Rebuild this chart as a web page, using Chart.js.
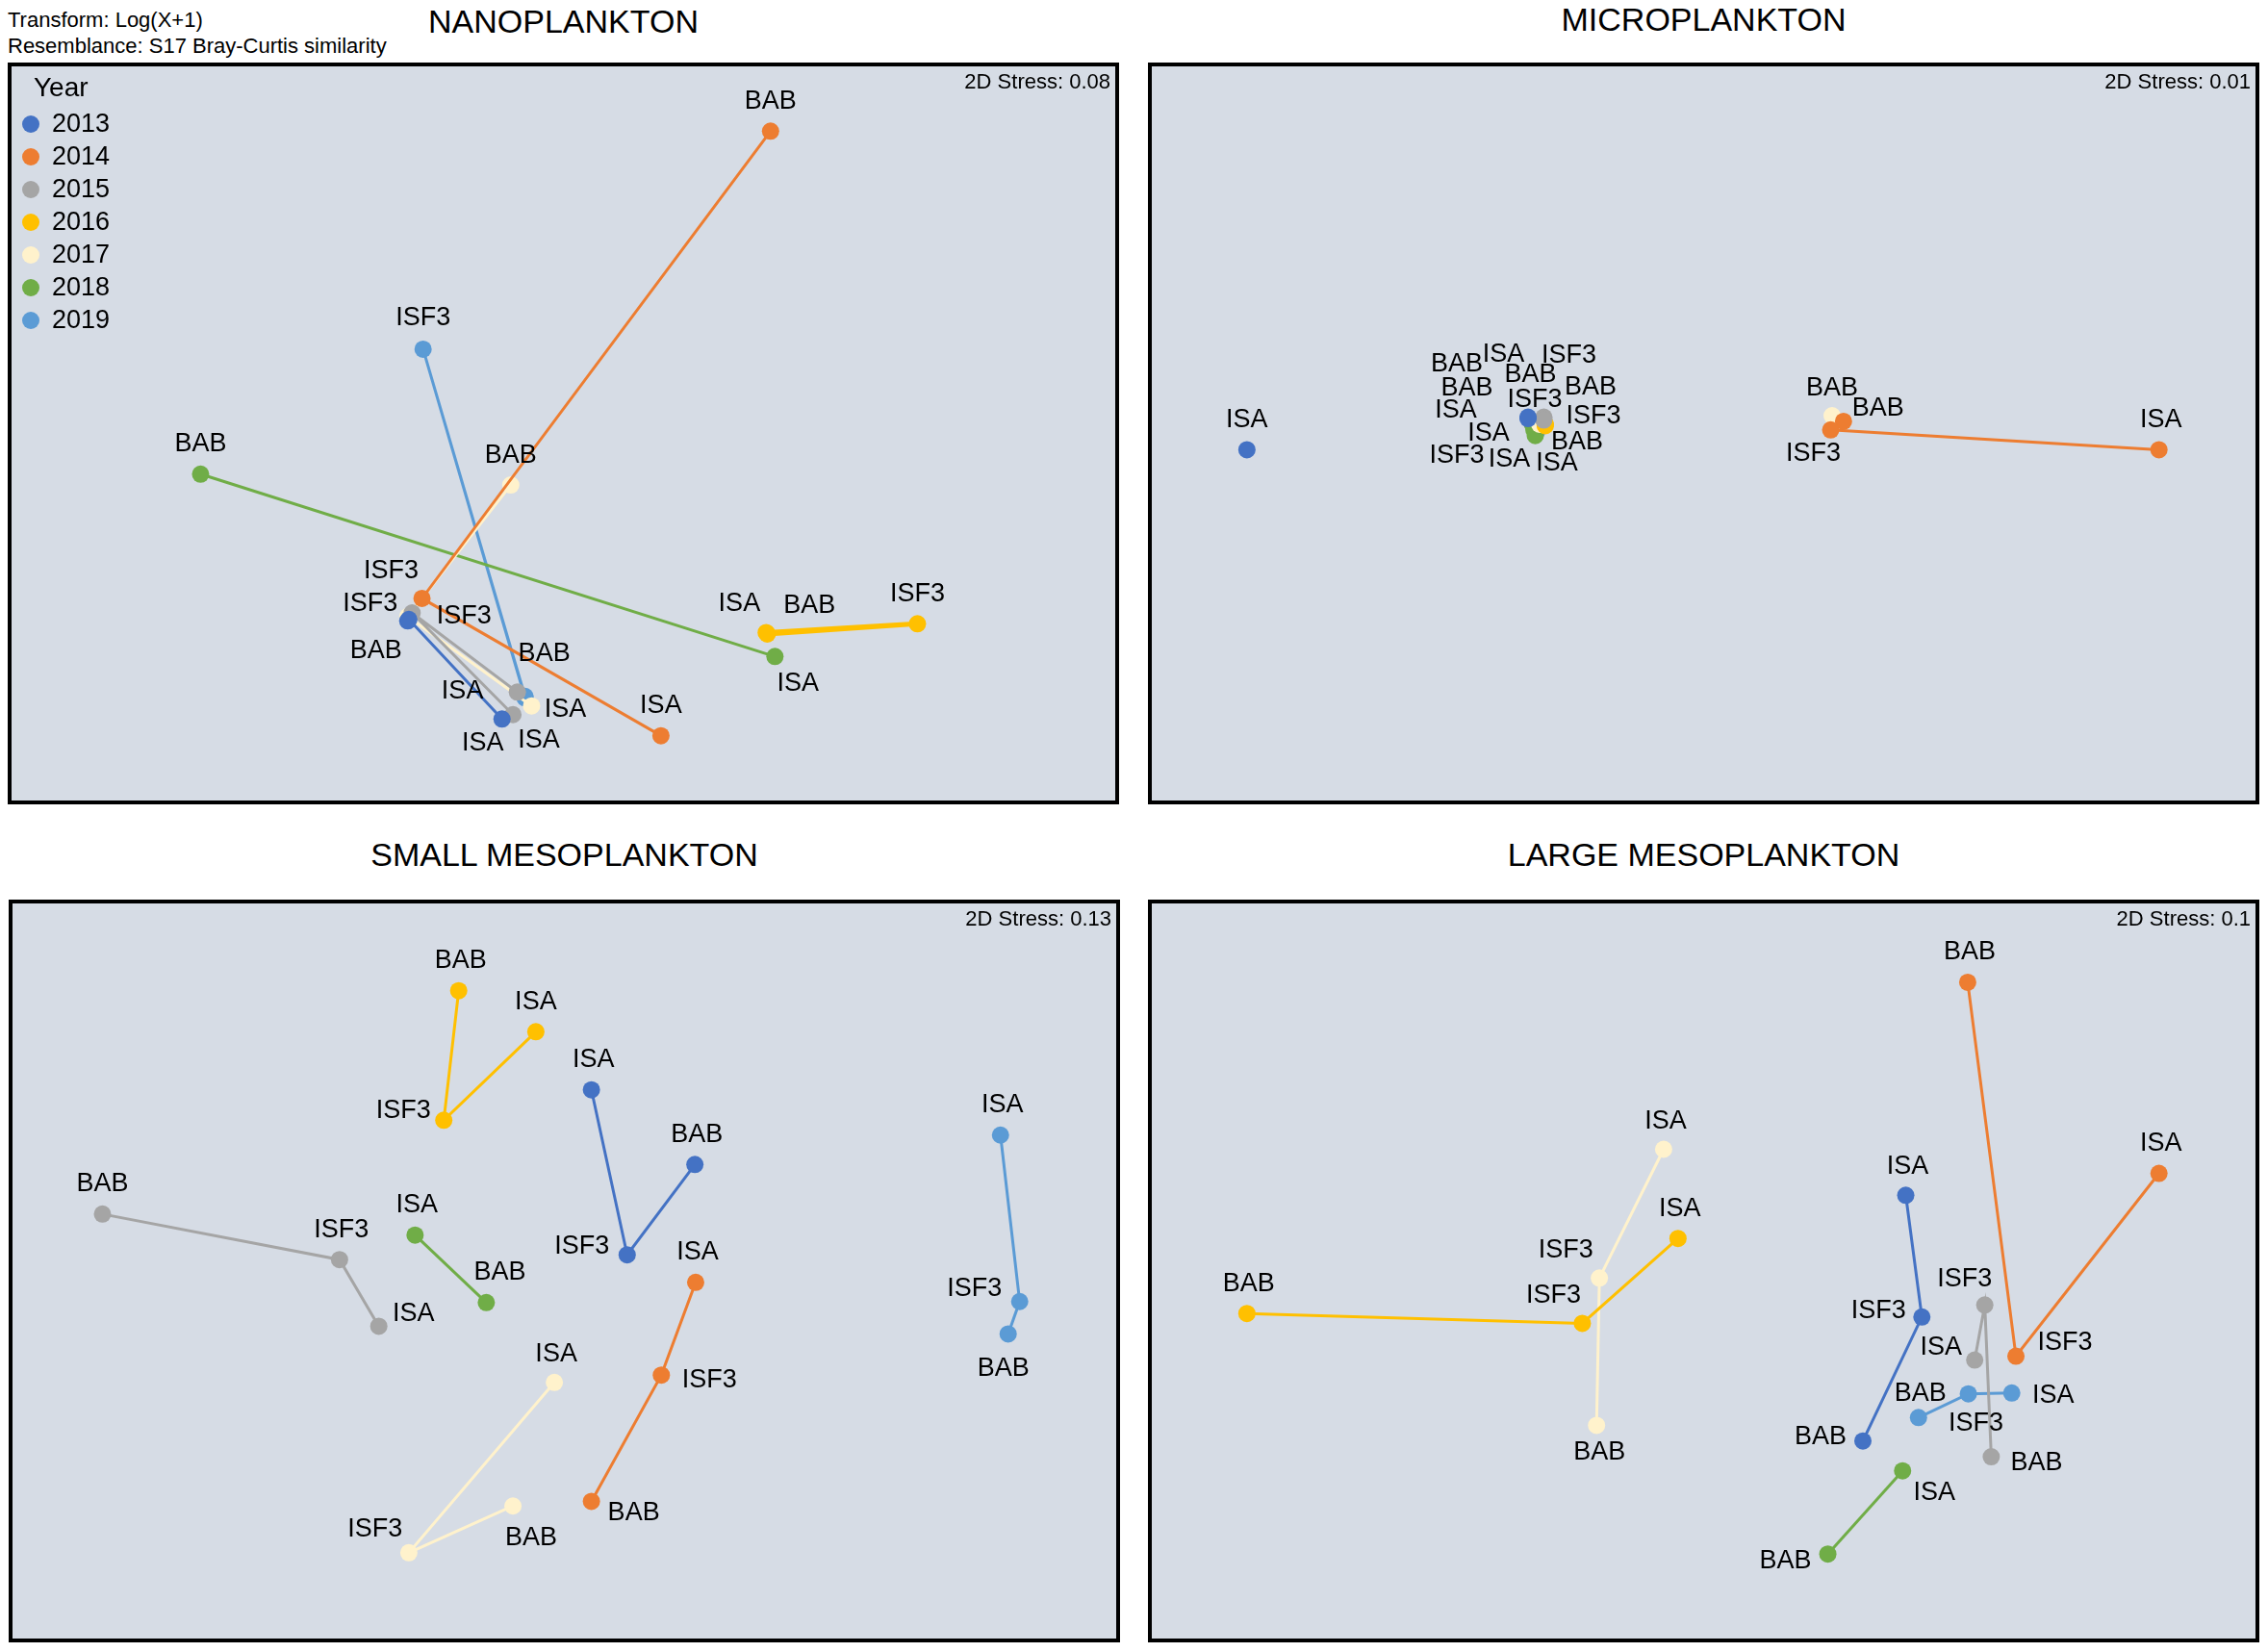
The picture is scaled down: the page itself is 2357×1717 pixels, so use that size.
<!DOCTYPE html>
<html>
<head>
<meta charset="utf-8">
<script src="https://cdn.jsdelivr.net/npm/chart.js@4.4.1/dist/chart.umd.min.js"></script>
<style>
  html, body { margin: 0; padding: 0; background: #fff; }
  body { width: 2357px; height: 1717px; position: relative; overflow: hidden;
         font-family: "Liberation Sans", Arial, sans-serif; color: #000; }
  .note { position: absolute; left: 8px; font-size: 22px; line-height: 24px; white-space: nowrap; }
  .title { position: absolute; width: 1155px; text-align: center; font-size: 34px; line-height: 40px; white-space: nowrap; }
  .panel { position: absolute; width: 1155px; border: 4px solid #000; box-sizing: border-box; background: #d6dce5; }
  .panel canvas { display: block; }
  .stress { position: absolute; right: 5px; top: 4px; font-size: 22px; line-height: 24px; }
</style>
</head>
<body>
<div class="note" style="top:9px">Transform: Log(X+1)</div>
<div class="note" style="top:36px">Resemblance: S17 Bray-Curtis similarity</div>

<div class="title" style="left:8px; top:2px">NANOPLANKTON</div>
<div class="title" style="left:1193px; top:0px">MICROPLANKTON</div>
<div class="title" style="left:9px; top:868px">SMALL MESOPLANKTON</div>
<div class="title" style="left:1193px; top:868px">LARGE MESOPLANKTON</div>

<div class="panel" style="left:8px; top:65px; height:771px"><canvas id="nano" width="1147" height="763"></canvas><div class="stress">2D Stress: 0.08</div></div>
<div class="panel" style="left:1193px; top:65px; height:771px"><canvas id="micro" width="1147" height="763"></canvas><div class="stress">2D Stress: 0.01</div></div>
<div class="panel" style="left:9px; top:935px; height:772px"><canvas id="small" width="1147" height="764"></canvas><div class="stress">2D Stress: 0.13</div></div>
<div class="panel" style="left:1193px; top:935px; height:772px"><canvas id="large" width="1147" height="764"></canvas><div class="stress">2D Stress: 0.1</div></div>

<script>
const years = ['2013', '2014', '2015', '2016', '2017', '2018', '2019'];
const sites = ['BAB', 'ISF3', 'ISA'];
const yearColors = ['#4472c4', '#ed7d31', '#a5a5a5', '#ffc000', '#fff2cc', '#70ad47', '#5b9bd5'];

// MDS coordinates, one row per year, order BAB, ISF3, ISA
const nanoX = [
  [35.8, 35.9, 44.4],
  [68.9, 37.1, 58.9],
  [45.8, 36.2, 45.4],
  [68.5, 82.3, 68.6],
  [45.2, 35.8, 47.1],
  [16.9, null, 69.3],
  [46.5, 37.2, 46.5]
];
const nanoY = [
  [24.2, 24.4, 10.7],
  [91.6, 27.3, 8.4],
  [14.4, 25.3, 11.3],
  [22.6, 23.8, 22.4],
  [42.9, 24.8, 12.5],
  [44.4, null, 19.3],
  [13.8, 61.6, 13.6]
];

const microX = [
  [33.98, 33.98, 8.33],
  [62.76, 61.59, 91.54],
  [35.42, 35.42, 35.42],
  [35.55, 35.55, 35.55],
  [61.72, 35.03, 35.03],
  [34.38, 34.51, 34.64],
  [34.77, 34.77, 34.77]
];
const microY = [
  [52.24, 52.05, 47.76],
  [51.66, 50.49, 47.76],
  [52.24, 52.05, 51.85],
  [51.27, 51.27, 51.07],
  [52.44, 51.46, 51.27],
  [51.27, 50.49, 49.71],
  [50.49, 50.49, 50.29]
];

const smallX = [
  [61.91, 55.73, 52.47],
  [52.47, 58.85, 61.98],
  [7.86, 29.49, 33.07],
  [40.36, 39.00, 47.40],
  [45.31, 35.81, 49.09],
  [42.88, null, 36.38],
  [90.49, 91.54, 89.79]
];
const smallY = [
  [64.63, 52.22, 74.90],
  [18.33, 35.70, 48.44],
  [57.82, 51.56, 42.41],
  [88.52, 70.72, 82.88],
  [17.70, 11.28, 34.69],
  [45.66, null, 54.94],
  [41.34, 45.80, 68.68]
];

const largeX = [
  [64.53, 69.91, 68.44],
  [74.09, 78.49, 91.54],
  [76.24, 75.65, 74.73],
  [8.33, 38.93, 47.66],
  [40.23, 40.49, 46.35],
  [61.33, null, 68.15],
  [69.60, 74.15, 78.11]
];
const largeY = [
  [26.63, 43.68, 60.41],
  [89.69, 38.29, 63.42],
  [24.47, 45.33, 37.76],
  [44.16, 42.80, 54.47],
  [28.79, 49.03, 66.73],
  [11.09, null, 22.53],
  [29.86, 33.11, 33.23]
];

// label placement (px from the point), null = label hidden in the original
const nanoLabels = [
  [[-33, 30], null, [-20, 24]],
  [[0, -32], [-32, -29], [0, -32]],
  [null, [54, 3], [27, 26]],
  [[45, -29], [0, -32], [-29, -32]],
  [[0, -32], [-39, -14], [35, 3]],
  [[0, -32], null, [24, 27]],
  [[20, -45], [0, -33], [-65, -8]]
];
const microLabels = [
  [[-74, -56], null, [0, -32]],
  [[36, -14], [-18, 24], [2, -32]],
  [[-14, -45], [26, -66], [-42, -69]],
  [[47, -39], [50, -9], [12, 38]],
  [[0, -30], null, [-87, -15]],
  [[-68, -38], [-80, 26], [-27, 24]],
  [[42, 12], [-2, -32], [-50, 1]]
];
const smallLabels = [
  [[2, -32], [-47, -10], [2, -32]],
  [[44, 11], [50, 4], [2, -32]],
  [[0, -32], [2, -32], [36, -14]],
  [[2, -32], [-42, -11], [0, -32]],
  [[19, 32], [-35, -25], [2, -30]],
  [[14, -32], null, [2, -32]],
  [[-5, 35], [-47, -14], [2, -32]]
];
const largeLabels = [
  [[-44, -5], [-45, -7], [2, -31]],
  [[2, -32], [51, -15], [2, -32]],
  [[47, 5], [-21, -28], [-35, -14]],
  [[2, -32], [-30, -30], [2, -32]],
  [[3, 27], [-35, -30], [2, -30]],
  [[-44, 6], null, [33, 22]],
  [[2, -26], [8, 30], [43, 2]]
];

const FONT = '"Liberation Sans", Arial, sans-serif';

// site names next to each point
const siteLabels = {
  id: 'siteLabels',
  afterDatasetsDraw(chart, args, opts) {
    const ctx = chart.ctx;
    ctx.save();
    ctx.font = '27px ' + FONT;
    ctx.fillStyle = '#000';
    ctx.textAlign = 'center';
    ctx.textBaseline = 'middle';
    chart.data.datasets.forEach((ds, i) => {
      const meta = chart.getDatasetMeta(i);
      meta.data.forEach((pt, j) => {
        const k = ds.data[j].site;
        const off = opts.offsets[i][k];
        if (!off) return;
        ctx.fillText(sites[k], pt.x + off[0], pt.y + off[1] + 1);
      });
    });
    ctx.restore();
  }
};

// "Year" key, only on the first panel
const yearLegend = {
  id: 'yearLegend',
  afterDraw(chart, args, opts) {
    if (!opts.show) return;
    const ctx = chart.ctx;
    ctx.save();
    ctx.fillStyle = '#000';
    ctx.textBaseline = 'middle';
    ctx.font = '28px ' + FONT;
    ctx.fillText('Year', 23, 23);
    ctx.font = '27px ' + FONT;
    years.forEach((yr, i) => {
      const cy = 60 + i * 34;
      ctx.beginPath();
      ctx.arc(20, cy, 9, 0, Math.PI * 2);
      ctx.fillStyle = yearColors[i];
      ctx.fill();
      ctx.fillStyle = '#000';
      ctx.fillText(yr, 42, cy + 1);
    });
    ctx.restore();
  }
};

function makePanel(id, xs, ys, labels, lineYears, showLegend) {
  const canvas = document.getElementById(id);
  // scale spans the outer panel box, border included
  const px = 4 / (canvas.width + 8) * 100;
  const py = 4 / (canvas.height + 8) * 100;
  const datasets = years.map((yr, i) => {
    const pts = [];
    sites.forEach((s, k) => {
      if (xs[i][k] !== null) pts.push({ x: xs[i][k], y: ys[i][k], site: k });
    });
    return {
      label: yr,
      data: pts,
      showLine: lineYears.includes(yr),
      borderColor: yearColors[i],
      backgroundColor: yearColors[i],
      borderWidth: (id === 'nano' && yr === '2016') ? 5 : 3,
      pointRadius: 9,
      pointBorderWidth: 0,
      pointBackgroundColor: yearColors[i]
    };
  });
  return new Chart(canvas, {
    type: 'scatter',
    data: { datasets },
    options: {
      responsive: false,
      animation: false,
      events: [],
      layout: { padding: 0, autoPadding: false },
      scales: {
        x: { type: 'linear', display: false, min: -px, max: 100 + px },
        y: { type: 'linear', display: false, min: -py, max: 100 + py }
      },
      plugins: {
        legend: { display: false },
        tooltip: { enabled: false },
        siteLabels: { offsets: labels },
        yearLegend: { show: showLegend }
      }
    },
    plugins: [siteLabels, yearLegend]
  });
}

makePanel('nano', nanoX, nanoY, nanoLabels, years, true);
makePanel('micro', microX, microY, microLabels, ['2014'], false);
makePanel('small', smallX, smallY, smallLabels, years, false);
makePanel('large', largeX, largeY, largeLabels, years, false);
</script>
</body>
</html>
